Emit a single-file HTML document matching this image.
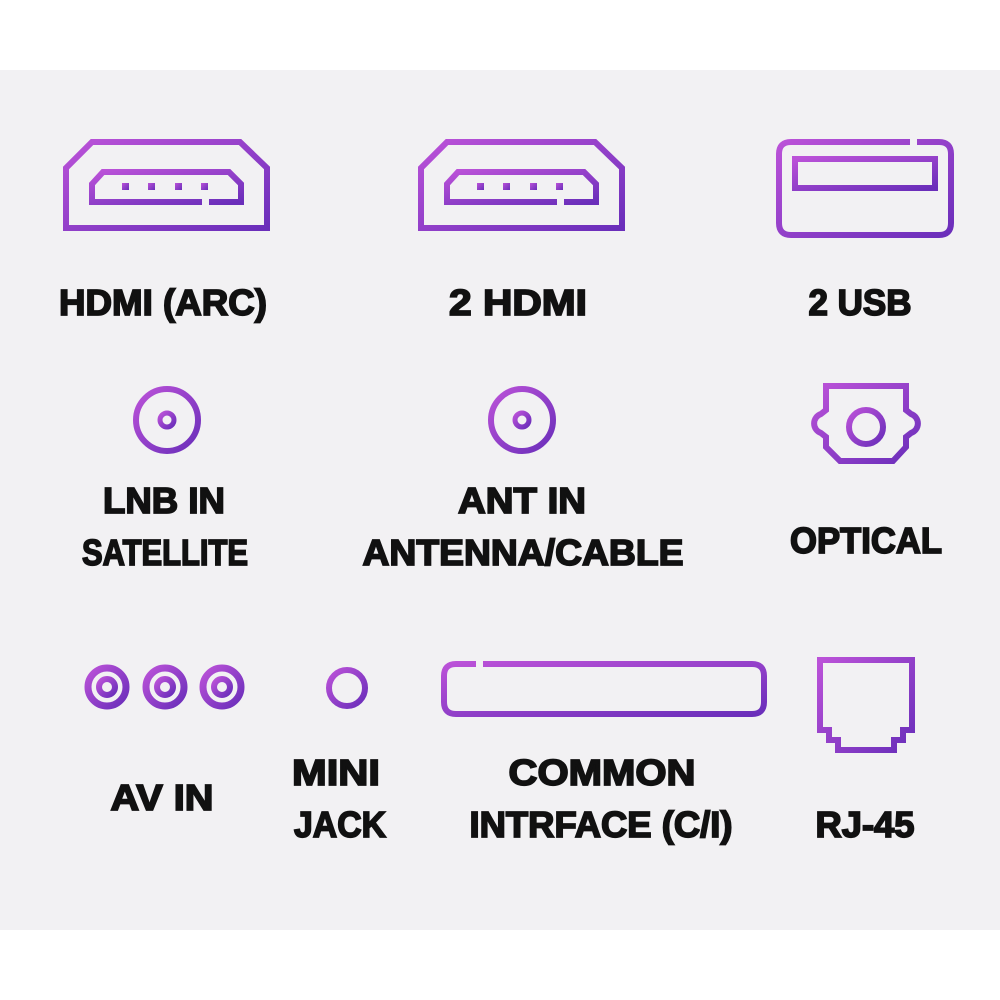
<!DOCTYPE html>
<html><head><meta charset="utf-8"><style>
html,body{margin:0;padding:0;background:#fff;}
svg{display:block;}
text{font-family:"Liberation Sans",sans-serif;font-weight:bold;font-size:36px;fill:#111;stroke:#111;stroke-width:1.7px;}
</style></head><body>
<svg width="1000" height="1000" viewBox="0 0 1000 1000" xmlns="http://www.w3.org/2000/svg">
<defs>
<linearGradient id="g" x1="0" y1="0" x2="1" y2="1">
<stop offset="0" stop-color="#bb52d8"/><stop offset="1" stop-color="#6a2eba"/>
</linearGradient>
</defs>
<rect x="0" y="70" width="1000" height="860" fill="#f2f1f3"/>
<g fill="none" stroke="url(#g)" stroke-width="6" stroke-linejoin="miter">
<g id="h">
<path d="M92 142 L240 142 L267 168 L267 228 L66 228 L66 168 Z"/>
<path d="M202 202 L92 202 L92 184 L103 172 L229 172 L241 184 L241 202 L209 202"/>
</g>
<g fill="url(#g)" stroke="none">
<rect x="122" y="183" width="7" height="7"/><rect x="148" y="183" width="7" height="7"/><rect x="175" y="183" width="7" height="7"/><rect x="201" y="183" width="7" height="7"/>
<rect x="477" y="183" width="7" height="7"/><rect x="503" y="183" width="7" height="7"/><rect x="530" y="183" width="7" height="7"/><rect x="556" y="183" width="7" height="7"/>
</g>
<use href="#h" x="355"/>
<path d="M910 142 L791 142 Q779 142 779 154 L779 223 Q779 235 791 235 L939 235 Q951 235 951 223 L951 154 Q951 142 939 142 L917 142"/>
<rect x="795" y="159" width="140" height="29"/>
<circle cx="167" cy="420" r="31"/><circle cx="167" cy="420" r="7" stroke-width="5"/>
<circle cx="522" cy="420" r="31"/><circle cx="522" cy="420" r="7" stroke-width="5"/>
<path d="M826 386 L906 386 L906 410 L911 414 A10 10 0 0 1 911 433 L906 437 L906 447 L893 461 L840 461 L826 447 L826 437 L821 433 A10 10 0 0 1 821 414 L826 410 Z"/>
<circle cx="866" cy="427" r="17"/>
<circle cx="107" cy="687" r="19" stroke-width="7"/><circle cx="107" cy="687" r="8" stroke-width="6"/>
<circle cx="165" cy="687" r="19" stroke-width="7"/><circle cx="165" cy="687" r="8" stroke-width="6"/>
<circle cx="222" cy="687" r="19" stroke-width="7"/><circle cx="222" cy="687" r="8" stroke-width="6"/>
<circle cx="347" cy="688" r="18"/>
<path d="M476 664 L456 664 Q444 664 444 676 L444 702 Q444 714 456 714 L752 714 Q764 714 764 702 L764 676 Q764 664 752 664 L483 664"/>
<path d="M820 660 L912 660 L912 730 L903 730 L903 740 L894 740 L894 750 L838 750 L838 740 L829 740 L829 730 L820 730 Z"/>
</g>
<text x="163" y="315" text-anchor="middle" textLength="208" lengthAdjust="spacingAndGlyphs">HDMI (ARC)</text>
<text x="518" y="315" text-anchor="middle" textLength="138" lengthAdjust="spacingAndGlyphs">2 HDMI</text>
<text x="860" y="315" text-anchor="middle" textLength="103" lengthAdjust="spacingAndGlyphs">2 USB</text>
<text x="164" y="513" text-anchor="middle" textLength="122" lengthAdjust="spacingAndGlyphs">LNB IN</text>
<text x="165" y="565" text-anchor="middle" textLength="166" lengthAdjust="spacingAndGlyphs">SATELLITE</text>
<text x="522" y="513" text-anchor="middle" textLength="128" lengthAdjust="spacingAndGlyphs">ANT IN</text>
<text x="523" y="565" text-anchor="middle" textLength="321" lengthAdjust="spacingAndGlyphs">ANTENNA/CABLE</text>
<text x="866" y="553" text-anchor="middle" textLength="152" lengthAdjust="spacingAndGlyphs">OPTICAL</text>
<text x="162" y="810" text-anchor="middle" textLength="103" lengthAdjust="spacingAndGlyphs">AV IN</text>
<text x="336" y="785" text-anchor="middle" textLength="88" lengthAdjust="spacingAndGlyphs">MINI</text>
<text x="340" y="837" text-anchor="middle" textLength="92" lengthAdjust="spacingAndGlyphs">JACK</text>
<text x="602" y="785" text-anchor="middle" textLength="187" lengthAdjust="spacingAndGlyphs">COMMON</text>
<text x="601" y="837" text-anchor="middle" textLength="263" lengthAdjust="spacingAndGlyphs">INTRFACE (C/I)</text>
<text x="865" y="837" text-anchor="middle" textLength="99" lengthAdjust="spacingAndGlyphs">RJ-45</text>
</svg>
</body></html>
